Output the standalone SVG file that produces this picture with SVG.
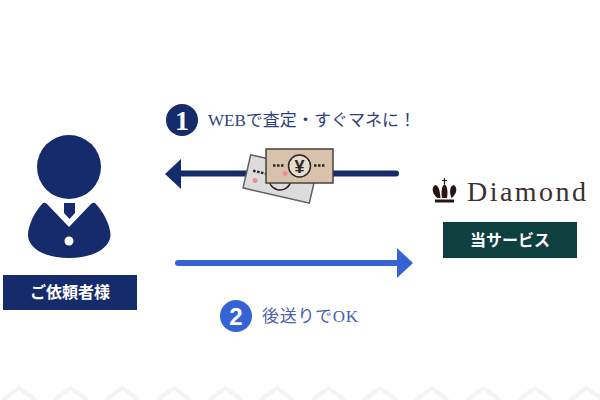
<svg xmlns="http://www.w3.org/2000/svg" width="600" height="400" viewBox="0 0 600 400">
<style>
.navy{fill:#152b6b}
.blue{fill:#3563d6}
.ser{font-family:"Liberation Serif","Noto Sans CJK JP",serif}
.lab{font-family:"Noto Sans CJK JP","Liberation Sans",sans-serif;font-weight:700;fill:#fff;font-size:16px;text-anchor:middle}
.num{font-family:"Liberation Serif",serif;font-weight:700;fill:#fff;text-anchor:middle;font-size:28px}
.cardtxt{font-family:"Liberation Sans",sans-serif;font-weight:700;fill:#2b2522;text-anchor:middle;font-size:18px}
.dots{stroke:#2b2522;stroke-width:2.500;stroke-dasharray:2.500 1.500;fill:none}
</style>
<defs>
<pattern id="zig" x="-7" y="384" width="51.600" height="16" patternUnits="userSpaceOnUse">
<path d="M26 2 L30 5 L33 6 L36 9 L40 11 L44 16 L38 16 L34 12 L30 10 L26 6 L22 10 L18 12 L14 16 L8 16 L12 11 L16 9 L19 6 L22 5 Z" fill="#f3f4f3"/>
</pattern>
</defs>
<g id="footer"><rect x="0" y="384" width="600" height="16" fill="url(#zig)"/></g>
<g id="connectors">
<g id="arrow-1"><path d="M396 173.500H178" fill="none" stroke="#152b6b" stroke-width="6" stroke-linecap="round"/><path class="navy" d="M165 174L181 159V189Z"/></g>
<g id="arrow-2"><path d="M178 263H400" fill="none" stroke="#3563d6" stroke-width="6" stroke-linecap="round"/><path class="blue" d="M413 263L397 248V278Z"/></g>
</g>
<g id="client">
<circle class="navy" cx="69" cy="167" r="32"/>
<path class="navy" d="M43 203Q45 202 47 204L69 227L91 204Q93 202 95 203C104 212 111 227 110.500 236C109 250 90 258 69 258C48 258 29 250 28 236C27.500 227 34 212 43 203Z"/>
<path class="navy" d="M64 203H75V213L69.500 219L64 213Z"/>
<circle cx="69" cy="241" r="4.500" fill="#fff"/>
<rect class="navy" x="3" y="275" width="134" height="35"/>
<text class="lab" x="70" y="298">ご依頼者様</text>
</g>
<g id="service">
<g fill="#2a1414">
<path d="M444.500 178v6M442 180.500h5" stroke="#2a1414" stroke-width="1.200" fill="none"/>
<path d="M437.500 198C432 194 431 187 435.500 185C439 185.500 440 192 440.500 198Z"/>
<path d="M442 198C441 192 441.500 186 444.500 184C447.500 186 448 192 447 198Z"/>
<path d="M451.500 198C449 192 450 185.500 453.500 185C458 187 457 194 451.500 198Z"/>
<rect x="435" y="199.500" width="19" height="3"/>
</g>
<text class="ser" x="467" y="201" font-size="28" fill="#3a2f33" textLength="119" lengthAdjust="spacing">Diamond</text>
<rect x="443" y="222" width="134" height="36" fill="#0f4040"/>
<text class="lab" x="510" y="246">当サービス</text>
</g>
<g id="step-1">
<circle class="navy" cx="182" cy="120" r="16"/>
<text class="num" x="182" y="130">1</text>
<text class="ser" x="208" y="126" font-size="17" fill="#2f3f7e" textLength="208">WEBで査定・すぐマネに！</text>
</g>
<g id="step-2">
<circle class="blue" cx="236" cy="316" r="16"/>
<text class="num" x="236" y="325" style="font-family:'Liberation Sans',sans-serif;font-size:24px">2</text>
<text class="ser" x="262" y="322" font-size="17" fill="#4a60ad" textLength="96">後送りでOK</text>
</g>
<g id="money">
<g transform="rotate(13 280 179)">
<rect x="246" y="162" width="68" height="34" fill="#dcdcdc" stroke="#5f5f5f" stroke-width="1.500"/>
<circle cx="280" cy="179" r="11" fill="#dcdcdc" stroke="#2b2522" stroke-width="1.500"/>
<path class="dots" d="M252 177h13"/>
<circle cx="256" cy="186" r="2.500" fill="#f08a98"/>
</g>
<rect x="266" y="149" width="67" height="34" fill="#d9c2ac" stroke="#4a4038" stroke-width="1.500"/>
<circle cx="299.500" cy="166" r="11" fill="#e8dccd" stroke="#2b2522" stroke-width="1.500"/>
<text class="cardtxt" x="299.500" y="172.500">¥</text>
<path class="dots" d="M273 165.500h12M314 165.500h12"/>
<circle cx="285" cy="173.500" r="2.500" fill="#f58a98"/>
</g>
</svg>
